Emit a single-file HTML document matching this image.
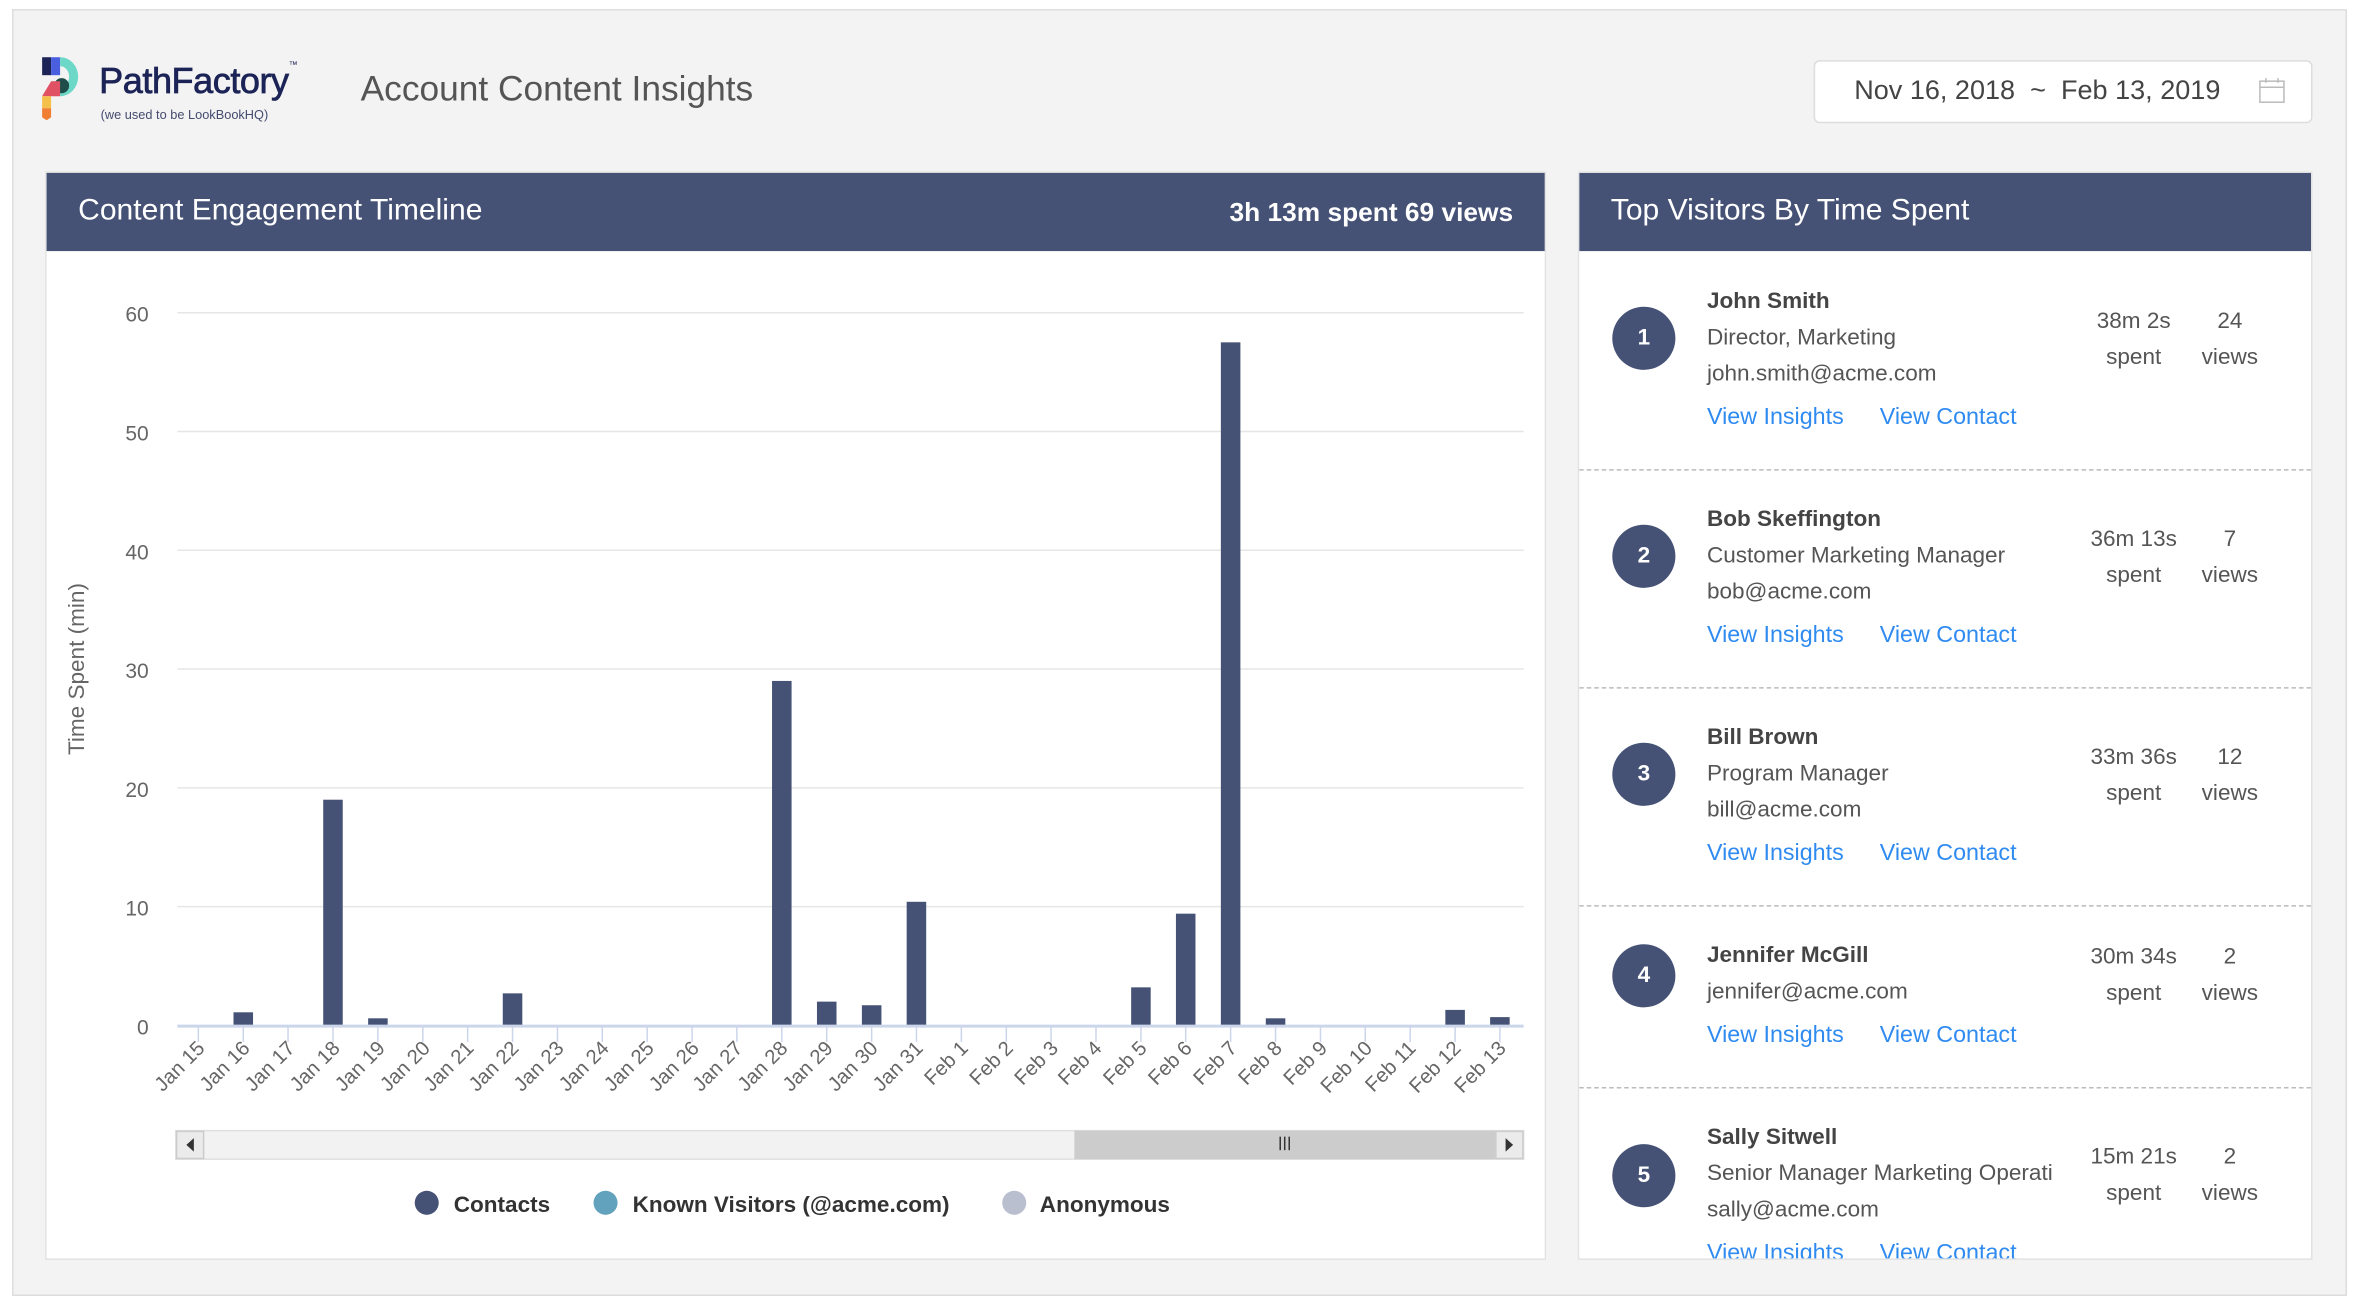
<!DOCTYPE html>
<html><head><meta charset="utf-8"><style>
html,body{margin:0;padding:0;background:#fff;width:2356px;height:1302px;overflow:hidden}
#w{position:absolute;left:0;top:0;width:1568px;height:866px;transform:scale(1.5026,1.5035);transform-origin:0 0;font-family:"Liberation Sans",sans-serif}
.a{position:absolute;white-space:nowrap}
.card{position:absolute;background:#fff;border:1px solid #e2e2e2}
.hd{position:absolute;left:0;right:0;top:0;height:52px;background:#455276;color:#fff}
.circ{position:absolute;width:42px;height:42px;border-radius:50%;background:#455276;color:#fff;font-weight:bold;font-size:15px;text-align:center;line-height:42px}
.nm{font-weight:bold;font-size:15px;color:#444}
.tx{font-size:15px;color:#555}
.lk{font-size:15.5px;color:#2f8bf0}
.st{font-size:15px;color:#555;text-align:center;width:80px;line-height:24px}
.dash{position:absolute;left:0;right:0;border-top:1.5px dashed #bbb}
</style></head><body><div id="w">
<div class="a" style="left:8px;top:6px;width:1552px;height:854px;background:#f3f3f3;border:1px solid #ddd"></div>
<svg class="a" style="left:28px;top:38px" width="34" height="42" viewBox="0 0 34 42">
<rect x="0" y="0" width="6" height="12" fill="#1c2457"/><rect x="6" y="0" width="6" height="12" fill="#4a5ee0"/>
<path d="M12 0 A12 13 0 0 1 12 26 L12 20 A6 7 0 0 0 12 6Z" fill="#6dd8c8"/>
<circle cx="13" cy="19" r="5" fill="#1f4d4a"/>
<path d="M0 26 L6 16 L12 16 L12 26Z" fill="#e05263"/><rect x="0" y="26" width="6" height="8" fill="#f5c04a"/>
<path d="M0 34 L6 34 L6 40 L3 42 L0 40Z" fill="#f07f34"/></svg>
<div class="a" style="left:66px;top:41px;font-size:24px;color:#1c2457;letter-spacing:-0.3px;-webkit-text-stroke:0.5px #1c2457">PathFactory<span style="font-size:6px;vertical-align:top;-webkit-text-stroke:0">™</span></div>
<div class="a" style="left:67px;top:71px;font-size:8.5px;color:#444b6e">(we used to be LookBookHQ)</div>
<div class="a" style="left:240px;top:46px;font-size:23.5px;color:#555">Account Content Insights</div>
<div class="a" style="left:1207px;top:40px;width:330px;height:40px;background:#fff;border:1px solid #ddd;border-radius:4px"></div>
<div class="a" style="left:1234px;top:50px;font-size:18px;color:#444">Nov 16, 2018 &nbsp;~ &nbsp;Feb 13, 2019</div>
<svg class="a" style="left:1503px;top:51px" width="18" height="18"><rect x="1" y="3" width="16" height="14" fill="none" stroke="#bbb"/><line x1="1" y1="7" x2="17" y2="7" stroke="#bbb"/><line x1="5" y1="1" x2="5" y2="4" stroke="#bbb"/><line x1="13" y1="1" x2="13" y2="4" stroke="#bbb"/></svg>

<div class="card" style="left:30px;top:114px;width:997px;height:722px">
<div class="hd"><div class="a" style="left:21px;top:14px;font-size:20px">Content Engagement Timeline</div>
<div class="a" style="right:21px;top:16px;font-size:17.5px;font-weight:bold">3h 13m spent 69 views</div></div></div>

<svg class="a" style="left:0;top:0" width="1568" height="866" font-family="Liberation Sans,sans-serif">
<g stroke="#e6e6e6" stroke-width="1"><line x1="118" y1="208" x2="1014" y2="208"/><line x1="118" y1="287" x2="1014" y2="287"/><line x1="118" y1="366" x2="1014" y2="366"/><line x1="118" y1="445" x2="1014" y2="445"/><line x1="118" y1="524" x2="1014" y2="524"/><line x1="118" y1="603" x2="1014" y2="603"/></g>
<g font-size="14" fill="#666" text-anchor="end"><text x="99" y="214">60</text><text x="99" y="293">50</text><text x="99" y="372">40</text><text x="99" y="451">30</text><text x="99" y="530">20</text><text x="99" y="609">10</text><text x="99" y="688">0</text></g>
<text transform="translate(56,445) rotate(-90)" text-anchor="middle" font-size="15" fill="#666">Time Spent (min)</text>
<g fill="#455276">
<rect x="155.4" y="673.3" width="13" height="8.7"/><rect x="215.1" y="531.9" width="13" height="150.1"/><rect x="245" y="677.3" width="13" height="4.7"/><rect x="334.6" y="660.7" width="13" height="21.3"/><rect x="513.8" y="452.9" width="13" height="229.1"/><rect x="543.7" y="666.2" width="13" height="15.8"/><rect x="573.6" y="668.6" width="13" height="13.4"/><rect x="603.4" y="599.8" width="13" height="82.2"/><rect x="752.8" y="656.7" width="13" height="25.3"/><rect x="782.6" y="607.7" width="13" height="74.3"/><rect x="812.5" y="227.7" width="13" height="454.3"/><rect x="842.4" y="677.3" width="13" height="4.7"/><rect x="961.9" y="671.7" width="13" height="10.3"/><rect x="991.7" y="676.5" width="13" height="5.5"/>
</g>
<line x1="118" y1="682.5" x2="1014" y2="682.5" stroke="#ccd6eb" stroke-width="2"/>
<g stroke="#ccd6eb"><line x1="132" y1="683" x2="132" y2="693"/><line x1="161.9" y1="683" x2="161.9" y2="693"/><line x1="191.7" y1="683" x2="191.7" y2="693"/><line x1="221.6" y1="683" x2="221.6" y2="693"/><line x1="251.5" y1="683" x2="251.5" y2="693"/><line x1="281.4" y1="683" x2="281.4" y2="693"/><line x1="311.2" y1="683" x2="311.2" y2="693"/><line x1="341.1" y1="683" x2="341.1" y2="693"/><line x1="371" y1="683" x2="371" y2="693"/><line x1="400.8" y1="683" x2="400.8" y2="693"/><line x1="430.7" y1="683" x2="430.7" y2="693"/><line x1="460.6" y1="683" x2="460.6" y2="693"/><line x1="490.4" y1="683" x2="490.4" y2="693"/><line x1="520.3" y1="683" x2="520.3" y2="693"/><line x1="550.2" y1="683" x2="550.2" y2="693"/><line x1="580.1" y1="683" x2="580.1" y2="693"/><line x1="609.9" y1="683" x2="609.9" y2="693"/><line x1="639.8" y1="683" x2="639.8" y2="693"/><line x1="669.7" y1="683" x2="669.7" y2="693"/><line x1="699.5" y1="683" x2="699.5" y2="693"/><line x1="729.4" y1="683" x2="729.4" y2="693"/><line x1="759.3" y1="683" x2="759.3" y2="693"/><line x1="789.1" y1="683" x2="789.1" y2="693"/><line x1="819" y1="683" x2="819" y2="693"/><line x1="848.9" y1="683" x2="848.9" y2="693"/><line x1="878.8" y1="683" x2="878.8" y2="693"/><line x1="908.6" y1="683" x2="908.6" y2="693"/><line x1="938.5" y1="683" x2="938.5" y2="693"/><line x1="968.4" y1="683" x2="968.4" y2="693"/><line x1="998.2" y1="683" x2="998.2" y2="693"/></g>
<g font-size="13.5" fill="#666" text-anchor="end">
<text transform="translate(137,698) rotate(-45)">Jan 15</text><text transform="translate(167,698) rotate(-45)">Jan 16</text><text transform="translate(197,698) rotate(-45)">Jan 17</text><text transform="translate(227,698) rotate(-45)">Jan 18</text><text transform="translate(257,698) rotate(-45)">Jan 19</text><text transform="translate(287,698) rotate(-45)">Jan 20</text><text transform="translate(316,698) rotate(-45)">Jan 21</text><text transform="translate(346,698) rotate(-45)">Jan 22</text><text transform="translate(376,698) rotate(-45)">Jan 23</text><text transform="translate(406,698) rotate(-45)">Jan 24</text><text transform="translate(436,698) rotate(-45)">Jan 25</text><text transform="translate(466,698) rotate(-45)">Jan 26</text><text transform="translate(495,698) rotate(-45)">Jan 27</text><text transform="translate(525,698) rotate(-45)">Jan 28</text><text transform="translate(555,698) rotate(-45)">Jan 29</text><text transform="translate(585,698) rotate(-45)">Jan 30</text><text transform="translate(615,698) rotate(-45)">Jan 31</text><text transform="translate(645,698) rotate(-45)">Feb 1</text><text transform="translate(675,698) rotate(-45)">Feb 2</text><text transform="translate(705,698) rotate(-45)">Feb 3</text><text transform="translate(734,698) rotate(-45)">Feb 4</text><text transform="translate(764,698) rotate(-45)">Feb 5</text><text transform="translate(794,698) rotate(-45)">Feb 6</text><text transform="translate(824,698) rotate(-45)">Feb 7</text><text transform="translate(854,698) rotate(-45)">Feb 8</text><text transform="translate(884,698) rotate(-45)">Feb 9</text><text transform="translate(914,698) rotate(-45)">Feb 10</text><text transform="translate(943,698) rotate(-45)">Feb 11</text><text transform="translate(973,698) rotate(-45)">Feb 12</text><text transform="translate(1003,698) rotate(-45)">Feb 13</text></g>
<rect x="117" y="752" width="897" height="19" fill="#f2f2f2" stroke="#e0e0e0"/>
<rect x="715" y="752" width="280" height="19" fill="#cccccc"/>
<rect x="117.5" y="752.5" width="18" height="18" fill="#ebebeb" stroke="#ccc"/><path d="M129 757 L124 761.5 L129 766Z" fill="#333"/>
<rect x="995.5" y="752.5" width="18" height="18" fill="#ebebeb" stroke="#ccc"/><path d="M1002 757 L1007 761.5 L1002 766Z" fill="#333"/>
<g stroke="#333"><line x1="852" y1="756" x2="852" y2="765"/><line x1="855" y1="756" x2="855" y2="765"/><line x1="858" y1="756" x2="858" y2="765"/></g>
<g font-size="15" font-weight="bold" fill="#333"><circle cx="284" cy="800" r="8" fill="#455276"/><text x="302" y="806">Contacts</text><circle cx="403" cy="800" r="8" fill="#62a2bd"/><text x="421" y="806">Known Visitors (@acme.com)</text><circle cx="675" cy="800" r="8" fill="#b9bfcf"/><text x="692" y="806">Anonymous</text></g>
</svg>

<div class="card" style="left:1050px;top:114px;width:487px;height:722px;overflow:hidden">
<div class="hd"><div class="a" style="left:21px;top:14px;font-size:20px">Top Visitors By Time Spent</div></div>
<div class="dash" style="top:197px"></div><div class="dash" style="top:342px"></div><div class="dash" style="top:487px"></div><div class="dash" style="top:608px"></div>

<div class="circ" style="left:22px;top:89px">1</div>
<div class="a nm" style="left:85px;top:77px">John Smith</div><div class="a tx" style="left:85px;top:101px">Director, Marketing</div><div class="a tx" style="left:85px;top:125px">john.smith@acme.com</div>
<div class="a lk" style="left:85px;top:154px">View Insights</div><div class="a lk" style="left:200px;top:154px">View Contact</div>
<div class="a st" style="left:329px;top:87px">38m 2s<br>spent</div><div class="a st" style="left:393px;top:87px">24<br>views</div>

<div class="circ" style="left:22px;top:234px">2</div>
<div class="a nm" style="left:85px;top:222px">Bob Skeffington</div><div class="a tx" style="left:85px;top:246px">Customer Marketing Manager</div><div class="a tx" style="left:85px;top:270px">bob@acme.com</div>
<div class="a lk" style="left:85px;top:299px">View Insights</div><div class="a lk" style="left:200px;top:299px">View Contact</div>
<div class="a st" style="left:329px;top:232px">36m 13s<br>spent</div><div class="a st" style="left:393px;top:232px">7<br>views</div>

<div class="circ" style="left:22px;top:379px">3</div>
<div class="a nm" style="left:85px;top:367px">Bill Brown</div><div class="a tx" style="left:85px;top:391px">Program Manager</div><div class="a tx" style="left:85px;top:415px">bill@acme.com</div>
<div class="a lk" style="left:85px;top:444px">View Insights</div><div class="a lk" style="left:200px;top:444px">View Contact</div>
<div class="a st" style="left:329px;top:377px">33m 36s<br>spent</div><div class="a st" style="left:393px;top:377px">12<br>views</div>

<div class="circ" style="left:22px;top:513px">4</div>
<div class="a nm" style="left:85px;top:512px">Jennifer McGill</div><div class="a tx" style="left:85px;top:536px">jennifer@acme.com</div>
<div class="a lk" style="left:85px;top:565px">View Insights</div><div class="a lk" style="left:200px;top:565px">View Contact</div>
<div class="a st" style="left:329px;top:510px">30m 34s<br>spent</div><div class="a st" style="left:393px;top:510px">2<br>views</div>

<div class="circ" style="left:22px;top:646px">5</div>
<div class="a nm" style="left:85px;top:633px">Sally Sitwell</div><div class="a tx" style="left:85px;top:657px;width:230px;overflow:hidden">Senior Manager Marketing Operations</div><div class="a tx" style="left:85px;top:681px">sally@acme.com</div>
<div class="a lk" style="left:85px;top:710px">View Insights</div><div class="a lk" style="left:200px;top:710px">View Contact</div>
<div class="a st" style="left:329px;top:643px">15m 21s<br>spent</div><div class="a st" style="left:393px;top:643px">2<br>views</div>
</div>
</div></body></html>
